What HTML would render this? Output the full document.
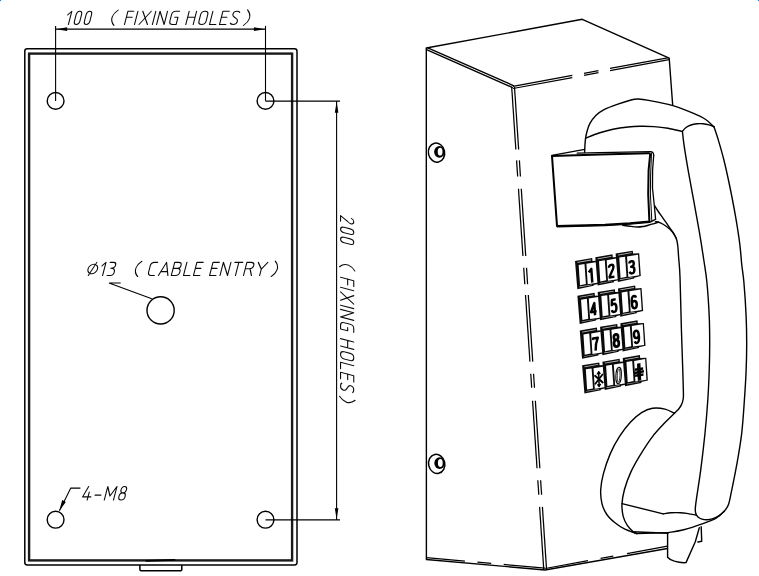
<!DOCTYPE html>
<html><head><meta charset="utf-8"><title>drawing</title>
<style>
html,body{margin:0;padding:0;background:#fff;font-family:"Liberation Sans",sans-serif;}
svg{display:block}
</style></head><body>
<svg width="759" height="576" viewBox="0 0 759 576">
<rect width="759" height="576" fill="#fff"/>

<g fill="none" stroke="#000" stroke-linecap="butt">
<rect x="24.8" y="48.8" width="272.2" height="516.2" rx="2.4" ry="2.4" stroke-width="1.5"/>
<rect x="29.1" y="53.6" width="263.0" height="506.8" stroke="#1a1a1a" stroke-width="2.4"/>
<path d="M139.9,565 L139.9,569.6 Q139.9,570.7 141,570.7 L180.7,570.7 Q181.8,570.7 181.8,569.6 L181.8,565" stroke-width="1.5"/>
<path d="M146.4,560.9 L174.6,559.9" stroke-width="1.9" stroke-linecap="round"/>
<circle cx="55.6" cy="100.9" r="8.4" stroke-width="1.4"/>
<circle cx="265.5" cy="100.9" r="8.4" stroke-width="1.4"/>
<circle cx="55.6" cy="519.7" r="8.4" stroke-width="1.4"/>
<circle cx="265.5" cy="519.7" r="8.4" stroke-width="1.4"/>
<circle cx="160.6" cy="310.4" r="13.6" stroke-width="1.4"/>
</g>
<g fill="none" stroke="#000" stroke-width="1.1">
<path d="M55.6,25.9 L55.6,100.9"/>
<path d="M265.5,25.9 L265.5,100.9"/>
<path d="M55.6,29.15 L265.5,29.15"/>
<path d="M265.5,101.1 L340,101.1"/>
<path d="M265.5,519.9 L340,519.9"/>
<path d="M336.6,101.1 L336.6,519.9"/>
<path d="M120.7,283 L109,283 L151.8,298.8"/>
<path d="M80.4,488.1 L70.8,488.1 L59.4,510.8"/>
</g>
<g fill="#000" stroke="none">
<path d="M56.2,29.15 L67.2,27.35 L67.2,30.95 Z"/>
<path d="M264.9,29.15 L253.9,27.35 L253.9,30.95 Z"/>
<path d="M336.6,101.7 L334.8,112.7 L338.4,112.7 Z"/>
<path d="M336.6,519.3 L334.8,508.3 L338.4,508.3 Z"/>
<path d="M59.2,511.1 L62.2,500.1 L65.8,501.9 Z"/>
</g>
<g fill="none" stroke="#0a0a0a" stroke-width="0.0833" stroke-linecap="round" stroke-linejoin="round" >
<path transform="translate(68.40,24.45) skewX(-14.5) scale(13.2) translate(0,-1)" d="M-0.24,0.27 L0,0 L0,1"/>
<path transform="translate(73.60,24.45) skewX(-14.5) scale(13.2) translate(0,-1)" d="M0.205,0 C0.05,0 0,0.1 0,0.27 L0,0.73 C0,0.9 0.05,1 0.205,1 C0.36,1 0.41,0.9 0.41,0.73 L0.41,0.27 C0.41,0.1 0.36,0 0.205,0 Z"/>
<path transform="translate(83.60,24.45) skewX(-14.5) scale(13.2) translate(0,-1)" d="M0.205,0 C0.05,0 0,0.1 0,0.27 L0,0.73 C0,0.9 0.05,1 0.205,1 C0.36,1 0.41,0.9 0.41,0.73 L0.41,0.27 C0.41,0.1 0.36,0 0.205,0 Z"/>
<path transform="translate(109.20,24.45) skewX(-14.5) scale(13.2) translate(0,-1)" d="M0.4,-0.08 C0.08,0.18 -0.12,0.62 0.38,1.075"/>
<path transform="translate(124.50,24.45) skewX(-14.5) scale(13.2) translate(0,-1)" d="M0,1 L0,0 L0.44,0 M0,0.46 L0.44,0.46"/>
<path transform="translate(134.50,24.45) skewX(-14.5) scale(13.2) translate(0,-1)" d="M0,0 L0,1"/>
<path transform="translate(139.00,24.45) skewX(-14.5) scale(13.2) translate(0,-1)" d="M0.03,0 L0.64,1 M0.67,0 L0,1"/>
<path transform="translate(152.40,24.45) skewX(-14.5) scale(13.2) translate(0,-1)" d="M0,0 L0,1"/>
<path transform="translate(156.60,24.45) skewX(-14.5) scale(13.2) translate(0,-1)" d="M0,1 L0,0 L0.57,1 L0.57,0"/>
<path transform="translate(169.00,24.45) skewX(-14.5) scale(13.2) translate(0,-1)" d="M0.54,0 L0.27,0 C0.08,0 0,0.1 0,0.27 L0,0.73 C0,0.9 0.08,1 0.27,1 L0.54,1 L0.54,0.46 L0.3,0.46"/>
<path transform="translate(185.80,24.45) skewX(-14.5) scale(13.2) translate(0,-1)" d="M0,0 L0,1 M0.56,0 L0.56,1 M0,0.46 L0.56,0.46"/>
<path transform="translate(198.10,24.45) skewX(-14.5) scale(13.2) translate(0,-1)" d="M0.27,0 C0.08,0 0,0.1 0,0.27 L0,0.73 C0,0.9 0.08,1 0.27,1 C0.46,1 0.54,0.9 0.54,0.73 L0.54,0.27 C0.54,0.1 0.46,0 0.27,0 Z"/>
<path transform="translate(209.50,24.45) skewX(-14.5) scale(13.2) translate(0,-1)" d="M0,0 L0,1 L0.48,1"/>
<path transform="translate(219.50,24.45) skewX(-14.5) scale(13.2) translate(0,-1)" d="M0.48,0 L0,0 L0,1 L0.48,1 M0,0.46 L0.42,0.46"/>
<path transform="translate(230.00,24.45) skewX(-14.5) scale(13.2) translate(0,-1)" d="M0.5,0.08 C0.45,0.02 0.38,0 0.27,0 C0.1,0 0.02,0.08 0.02,0.22 C0.02,0.34 0.08,0.4 0.2,0.46 L0.34,0.54 C0.46,0.6 0.5,0.66 0.5,0.78 C0.5,0.92 0.42,1 0.25,1 C0.12,1 0.04,0.97 0,0.9"/>
<path transform="translate(243.80,24.45) skewX(-14.5) scale(13.2) translate(0,-1)" d="M0,-0.1 C0.5,0.38 0.32,0.82 0.0,1.075"/>
</g>
<g fill="none" stroke="#0a0a0a" stroke-width="0.0833" stroke-linecap="round" stroke-linejoin="round" transform="translate(365.0,152.8) rotate(90)">
<path transform="translate(62.90,24.45) skewX(-14.5) scale(13.2) translate(0,-1)" d="M0,0.17 C0.03,0.05 0.1,0 0.2,0 C0.33,0 0.41,0.07 0.41,0.2 C0.41,0.3 0.37,0.37 0.3,0.46 L0,1 L0.41,1"/>
<path transform="translate(73.60,24.45) skewX(-14.5) scale(13.2) translate(0,-1)" d="M0.205,0 C0.05,0 0,0.1 0,0.27 L0,0.73 C0,0.9 0.05,1 0.205,1 C0.36,1 0.41,0.9 0.41,0.73 L0.41,0.27 C0.41,0.1 0.36,0 0.205,0 Z"/>
<path transform="translate(83.60,24.45) skewX(-14.5) scale(13.2) translate(0,-1)" d="M0.205,0 C0.05,0 0,0.1 0,0.27 L0,0.73 C0,0.9 0.05,1 0.205,1 C0.36,1 0.41,0.9 0.41,0.73 L0.41,0.27 C0.41,0.1 0.36,0 0.205,0 Z"/>
<path transform="translate(109.20,24.45) skewX(-14.5) scale(13.2) translate(0,-1)" d="M0.4,-0.08 C0.08,0.18 -0.12,0.62 0.38,1.075"/>
<path transform="translate(124.50,24.45) skewX(-14.5) scale(13.2) translate(0,-1)" d="M0,1 L0,0 L0.44,0 M0,0.46 L0.44,0.46"/>
<path transform="translate(134.50,24.45) skewX(-14.5) scale(13.2) translate(0,-1)" d="M0,0 L0,1"/>
<path transform="translate(139.00,24.45) skewX(-14.5) scale(13.2) translate(0,-1)" d="M0.03,0 L0.64,1 M0.67,0 L0,1"/>
<path transform="translate(152.40,24.45) skewX(-14.5) scale(13.2) translate(0,-1)" d="M0,0 L0,1"/>
<path transform="translate(156.60,24.45) skewX(-14.5) scale(13.2) translate(0,-1)" d="M0,1 L0,0 L0.57,1 L0.57,0"/>
<path transform="translate(169.00,24.45) skewX(-14.5) scale(13.2) translate(0,-1)" d="M0.54,0 L0.27,0 C0.08,0 0,0.1 0,0.27 L0,0.73 C0,0.9 0.08,1 0.27,1 L0.54,1 L0.54,0.46 L0.3,0.46"/>
<path transform="translate(185.80,24.45) skewX(-14.5) scale(13.2) translate(0,-1)" d="M0,0 L0,1 M0.56,0 L0.56,1 M0,0.46 L0.56,0.46"/>
<path transform="translate(198.10,24.45) skewX(-14.5) scale(13.2) translate(0,-1)" d="M0.27,0 C0.08,0 0,0.1 0,0.27 L0,0.73 C0,0.9 0.08,1 0.27,1 C0.46,1 0.54,0.9 0.54,0.73 L0.54,0.27 C0.54,0.1 0.46,0 0.27,0 Z"/>
<path transform="translate(209.50,24.45) skewX(-14.5) scale(13.2) translate(0,-1)" d="M0,0 L0,1 L0.48,1"/>
<path transform="translate(219.50,24.45) skewX(-14.5) scale(13.2) translate(0,-1)" d="M0.48,0 L0,0 L0,1 L0.48,1 M0,0.46 L0.42,0.46"/>
<path transform="translate(230.00,24.45) skewX(-14.5) scale(13.2) translate(0,-1)" d="M0.5,0.08 C0.45,0.02 0.38,0 0.27,0 C0.1,0 0.02,0.08 0.02,0.22 C0.02,0.34 0.08,0.4 0.2,0.46 L0.34,0.54 C0.46,0.6 0.5,0.66 0.5,0.78 C0.5,0.92 0.42,1 0.25,1 C0.12,1 0.04,0.97 0,0.9"/>
<path transform="translate(243.80,24.45) skewX(-14.5) scale(13.2) translate(0,-1)" d="M0,-0.1 C0.5,0.38 0.32,0.82 0.0,1.075"/>
</g>
<g fill="none" stroke="#0a0a0a" stroke-width="0.0833" stroke-linecap="round" stroke-linejoin="round" >
<path transform="translate(86.30,275.55) skewX(-14.5) scale(13.2) translate(0,-1)" d="M0.72,0.5 A0.36,0.36 0 1 1 0,0.5 A0.36,0.36 0 1 1 0.72,0.5 Z M0.15,1.0 L0.54,0.0"/>
<path transform="translate(102.60,275.55) skewX(-14.5) scale(13.2) translate(0,-1)" d="M-0.24,0.27 L0,0 L0,1"/>
<path transform="translate(106.80,275.55) skewX(-14.5) scale(13.2) translate(0,-1)" d="M0,0 L0.27,0 C0.41,0 0.46,0.08 0.46,0.2 C0.46,0.37 0.37,0.45 0.16,0.45 C0.4,0.45 0.5,0.55 0.5,0.73 C0.5,0.91 0.42,1 0.27,1 L0.02,1"/>
<path transform="translate(132.90,275.55) skewX(-14.5) scale(13.2) translate(0,-1)" d="M0.4,-0.08 C0.08,0.18 -0.12,0.62 0.38,1.075"/>
<path transform="translate(147.70,275.55) skewX(-14.5) scale(13.2) translate(0,-1)" d="M0.5,0 L0.27,0 C0.08,0 0,0.1 0,0.27 L0,0.73 C0,0.9 0.08,1 0.27,1 L0.5,1"/>
<path transform="translate(158.40,275.55) skewX(-14.5) scale(13.2) translate(0,-1)" d="M0,1 L0.36,0 L0.72,1 M0.108,0.7 L0.612,0.7"/>
<path transform="translate(171.30,275.55) skewX(-14.5) scale(13.2) translate(0,-1)" d="M0,0 L0,1 L0.32,1 C0.51,1 0.58,0.9 0.58,0.73 C0.58,0.56 0.51,0.46 0.32,0.46 L0,0.46 M0.32,0.46 C0.48,0.46 0.54,0.38 0.54,0.23 C0.54,0.08 0.48,0 0.3,0 L0,0"/>
<path transform="translate(183.50,275.55) skewX(-14.5) scale(13.2) translate(0,-1)" d="M0,0 L0,1 L0.48,1"/>
<path transform="translate(193.50,275.55) skewX(-14.5) scale(13.2) translate(0,-1)" d="M0.48,0 L0,0 L0,1 L0.48,1 M0,0.46 L0.42,0.46"/>
<path transform="translate(209.60,275.55) skewX(-14.5) scale(13.2) translate(0,-1)" d="M0.48,0 L0,0 L0,1 L0.48,1 M0,0.46 L0.42,0.46"/>
<path transform="translate(220.00,275.55) skewX(-14.5) scale(13.2) translate(0,-1)" d="M0,1 L0,0 L0.57,1 L0.57,0"/>
<path transform="translate(231.50,275.55) skewX(-14.5) scale(13.2) translate(0,-1)" d="M0,0 L0.6,0 M0.3,0 L0.3,1"/>
<path transform="translate(243.50,275.55) skewX(-14.5) scale(13.2) translate(0,-1)" d="M0,1 L0,0 L0.32,0 C0.51,0 0.58,0.08 0.58,0.24 C0.58,0.4 0.51,0.48 0.32,0.48 L0,0.48 M0.36,0.48 L0.6,1"/>
<path transform="translate(254.90,275.55) skewX(-14.5) scale(13.2) translate(0,-1)" d="M0,0 L0.36,0.51 L0.72,0 M0.36,0.51 L0.36,1"/>
<path transform="translate(271.50,275.55) skewX(-14.5) scale(13.2) translate(0,-1)" d="M0,-0.1 C0.5,0.38 0.32,0.82 0.0,1.075"/>
</g>
<g fill="none" stroke="#0a0a0a" stroke-width="0.0815" stroke-linecap="round" stroke-linejoin="round" >
<path transform="translate(81.80,500.00) skewX(-14.5) scale(13.5) translate(0,-1)" d="M0.25,0 L0,0.77 L0.61,0.77 M0.40,0.42 L0.40,1"/>
<path transform="translate(93.80,500.00) skewX(-14.5) scale(13.5) translate(0,-1)" d="M0,0.64 L0.43,0.64"/>
<path transform="translate(104.30,500.00) skewX(-14.5) scale(13.5) translate(0,-1)" d="M0,1 L0,0 L0.34,0.7 L0.68,0 L0.68,1"/>
<path transform="translate(118.00,500.00) skewX(-14.5) scale(13.5) translate(0,-1)" d="M0.23,0.47 C0.08,0.47 0.03,0.38 0.03,0.24 C0.03,0.08 0.1,0 0.23,0 C0.36,0 0.43,0.08 0.43,0.24 C0.43,0.38 0.38,0.47 0.23,0.47 C0.06,0.47 0,0.58 0,0.74 C0,0.92 0.08,1 0.23,1 C0.38,1 0.46,0.92 0.46,0.74 C0.46,0.58 0.4,0.47 0.23,0.47"/>
</g>
<g fill="none" stroke="#000" stroke-width="1.4" stroke-linecap="round" stroke-linejoin="round">
<path d="M426.4,559.5 L426.3,48.0 L582.3,19.3 L669.2,58.2 L672.3,100 L672.7,105"/>
<path d="M427.8,47.8 L513.4,85.6"/>
<path d="M426.5,49.7 L512.2,87.4"/>
</g>
<path d="M511.70,87.00 L515.85,149.50" stroke="#000" stroke-width="1.25" fill="none"/>
<path d="M516.58,160.40 L517.65,176.50" stroke="#000" stroke-width="1.25" fill="none"/>
<path d="M518.46,188.70 L522.93,256.00" stroke="#000" stroke-width="1.25" fill="none"/>
<path d="M523.72,267.80 L524.81,284.30" stroke="#000" stroke-width="1.25" fill="none"/>
<path d="M525.52,295.00 L529.95,361.60" stroke="#000" stroke-width="1.25" fill="none"/>
<path d="M530.76,373.80 L531.68,387.70" stroke="#000" stroke-width="1.25" fill="none"/>
<path d="M532.56,400.80 L537.03,468.20" stroke="#000" stroke-width="1.25" fill="none"/>
<path d="M537.84,480.30 L538.80,494.70" stroke="#000" stroke-width="1.25" fill="none"/>
<path d="M539.61,506.90 L543.77,569.60" stroke="#000" stroke-width="1.25" fill="none"/>
<path d="M514.50,87.00 L518.65,149.50" stroke="#000" stroke-width="1.25" fill="none"/>
<path d="M519.38,160.40 L520.45,176.50" stroke="#000" stroke-width="1.25" fill="none"/>
<path d="M521.26,188.70 L525.73,256.00" stroke="#000" stroke-width="1.25" fill="none"/>
<path d="M526.52,267.80 L527.61,284.30" stroke="#000" stroke-width="1.25" fill="none"/>
<path d="M528.32,295.00 L532.75,361.60" stroke="#000" stroke-width="1.25" fill="none"/>
<path d="M533.56,373.80 L534.48,387.70" stroke="#000" stroke-width="1.25" fill="none"/>
<path d="M535.36,400.80 L539.83,468.20" stroke="#000" stroke-width="1.25" fill="none"/>
<path d="M540.64,480.30 L541.60,494.70" stroke="#000" stroke-width="1.25" fill="none"/>
<path d="M542.41,506.90 L546.57,569.60" stroke="#000" stroke-width="1.25" fill="none"/>
<path d="M513.00,86.46 L572.30,75.47" stroke="#000" stroke-width="1.25" fill="none"/>
<path d="M584.00,73.30 L598.50,70.61" stroke="#000" stroke-width="1.25" fill="none"/>
<path d="M610.00,68.48 L669.00,57.55" stroke="#000" stroke-width="1.25" fill="none"/>
<path d="M513.00,88.51 L572.30,77.52" stroke="#000" stroke-width="1.25" fill="none"/>
<path d="M584.00,75.35 L598.50,72.66" stroke="#000" stroke-width="1.25" fill="none"/>
<path d="M610.00,70.53 L669.00,59.60" stroke="#000" stroke-width="1.25" fill="none"/>
<path d="M426.4,559.5 L545,570.0" stroke="#000" stroke-width="1.3" fill="none"/>
<path d="M426.30,557.60 L464.90,561.02" stroke="#000" stroke-width="1.25" fill="none"/>
<path d="M477.40,562.12 L491.20,563.35" stroke="#000" stroke-width="1.25" fill="none"/>
<path d="M503.70,564.45 L544.90,568.10" stroke="#000" stroke-width="1.25" fill="none"/>
<path d="M545,570.0 L667.5,548.5" stroke="#000" stroke-width="1.3" fill="none"/>
<path d="M545.30,568.50 L588.00,560.71" stroke="#000" stroke-width="1.25" fill="none"/>
<path d="M600.60,558.41 L613.30,556.09" stroke="#000" stroke-width="1.25" fill="none"/>
<path d="M627.00,553.59 L667.50,546.20" stroke="#000" stroke-width="1.25" fill="none"/>
<ellipse cx="436.5" cy="152.6" rx="8.1" ry="9.6" transform="rotate(-12 436.5 152.6)" fill="#fff" stroke="#000" stroke-width="1.5"/>
<ellipse cx="439.4" cy="151.79999999999998" rx="5.3" ry="5.9" fill="#000" stroke="none"/>
<ellipse cx="440.1" cy="151.7" rx="2.4" ry="3.9" fill="#fff" stroke="none"/>
<ellipse cx="436.7" cy="463.9" rx="8.1" ry="9.6" transform="rotate(-12 436.7 463.9)" fill="#fff" stroke="#000" stroke-width="1.5"/>
<ellipse cx="439.59999999999997" cy="463.09999999999997" rx="5.3" ry="5.9" fill="#000" stroke="none"/>
<ellipse cx="440.3" cy="463.0" rx="2.4" ry="3.9" fill="#fff" stroke="none"/>
<g fill="none" stroke="#000" stroke-width="1.4" stroke-linecap="round" stroke-linejoin="round">
<path d="M584.60,152.40 C584.65,151.33 584.75,148.25 584.90,146.00 C585.05,143.75 585.18,141.20 585.50,138.90 C585.82,136.60 586.08,134.73 586.80,132.20 C587.52,129.67 588.25,126.52 589.80,123.70 C591.35,120.88 593.65,117.68 596.10,115.30 C598.55,112.92 600.98,111.23 604.50,109.40 C608.02,107.57 612.63,105.92 617.20,104.30 C621.77,102.68 628.40,100.58 631.90,99.70 C635.40,98.82 635.38,98.88 638.20,99.00 C641.02,99.12 643.17,99.33 648.80,100.40 C654.43,101.47 664.63,103.27 672.00,105.40 C679.37,107.53 687.38,110.85 693.00,113.20 C698.62,115.55 702.20,117.23 705.70,119.50 C709.20,121.77 712.62,125.58 714.00,126.80"/>
<path d="M585.50,138.30 C587.75,137.42 594.42,134.52 599.00,133.00 C603.58,131.48 608.17,130.20 613.00,129.20 C617.83,128.20 623.50,127.48 628.00,127.00 C632.50,126.52 635.67,126.37 640.00,126.30 C644.33,126.23 649.33,126.28 654.00,126.60 C658.67,126.92 663.27,127.40 668.00,128.20 C672.73,129.00 680.00,130.87 682.40,131.40"/>
<path d="M682.40,131.40 C683.00,130.75 684.57,128.57 686.00,127.50 C687.43,126.43 689.17,125.62 691.00,125.00 C692.83,124.38 695.00,124.02 697.00,123.80 C699.00,123.58 701.00,123.53 703.00,123.70 C705.00,123.87 707.17,124.28 709.00,124.80 C710.83,125.32 713.17,126.47 714.00,126.80"/>
<path d="M682.40,131.40 C682.70,133.85 683.22,139.48 684.20,146.10 C685.18,152.72 686.68,161.83 688.30,171.10 C689.92,180.37 692.05,191.52 693.90,201.70 C695.75,211.88 697.75,222.48 699.40,232.20 C701.05,241.92 702.55,251.67 703.80,260.00 C705.05,268.33 706.00,272.93 706.90,282.20 C707.80,291.47 708.73,305.42 709.20,315.60 C709.67,325.78 709.70,334.05 709.70,343.30 C709.70,352.55 709.52,361.65 709.20,371.10 C708.88,380.55 708.50,389.63 707.80,400.00 C707.10,410.37 706.17,421.73 705.00,433.30 C703.83,444.87 702.18,458.75 700.80,469.40 C699.42,480.05 697.62,490.68 696.70,497.20 C695.78,503.72 695.45,505.78 695.30,508.50 C695.15,511.22 695.35,512.08 695.80,513.50 C696.25,514.92 696.97,516.05 698.00,517.00 C699.03,517.95 700.50,518.73 702.00,519.20 C703.50,519.67 705.17,519.90 707.00,519.80 C708.83,519.70 711.00,519.30 713.00,518.60 C715.00,517.90 717.10,516.85 719.00,515.60 C720.90,514.35 723.50,511.85 724.40,511.10"/>
<path d="M714.00,126.80 C714.75,129.10 716.85,135.07 718.50,140.60 C720.15,146.13 722.07,152.60 723.90,160.00 C725.73,167.40 727.58,175.73 729.50,185.00 C731.42,194.27 733.70,205.88 735.40,215.60 C737.10,225.32 738.63,235.07 739.70,243.30 C740.77,251.53 741.10,258.52 741.80,265.00 C742.50,271.48 743.18,273.77 743.90,282.20 C744.62,290.63 745.63,305.42 746.10,315.60 C746.57,325.78 746.70,334.05 746.70,343.30 C746.70,352.55 746.48,361.65 746.10,371.10 C745.72,380.55 745.13,389.63 744.40,400.00 C743.67,410.37 742.95,422.65 741.70,433.30 C740.45,443.95 738.62,454.17 736.90,463.90 C735.18,473.63 732.78,484.98 731.40,491.70 C730.02,498.42 729.77,500.97 728.60,504.20 C727.43,507.43 726.48,508.78 724.40,511.10 C722.32,513.42 719.80,515.97 716.10,518.10 C712.40,520.23 707.59,521.96 702.20,523.90 C696.81,525.84 689.43,528.30 683.75,529.75 C678.07,531.20 670.71,532.12 668.10,532.60"/>
<path d="M654.60,205.60 C655.17,206.50 656.83,209.23 658.00,211.00 C659.17,212.77 660.27,214.30 661.60,216.20 C662.93,218.10 664.58,220.38 666.00,222.40 C667.42,224.42 668.77,226.37 670.10,228.30 C671.43,230.23 672.92,232.13 674.00,234.00 C675.08,235.87 675.97,237.50 676.60,239.50 C677.23,241.50 677.47,243.08 677.80,246.00 C678.13,248.92 678.23,251.88 678.60,257.00 C678.97,262.12 679.53,264.63 680.00,276.70 C680.47,288.77 680.93,313.67 681.40,329.40 C681.87,345.13 682.47,360.67 682.80,371.10 C683.13,381.53 683.33,387.35 683.40,392.00 C683.47,396.65 683.52,396.90 683.20,399.00 C682.88,401.10 682.28,402.90 681.50,404.60 C680.72,406.30 679.68,407.77 678.50,409.20 C677.32,410.63 675.08,412.53 674.40,413.20"/>
<path d="M655.50,221.60 C656.32,221.82 658.57,222.08 660.40,222.90 C662.23,223.72 664.48,224.98 666.50,226.50 C668.52,228.02 670.85,230.00 672.50,232.00 C674.15,234.00 675.75,237.42 676.40,238.50"/>
<path d="M622.60,225.20 C623.83,225.38 627.55,226.00 630.00,226.30 C632.45,226.60 635.13,226.97 637.30,227.00 C639.47,227.03 641.18,226.78 643.00,226.50 C644.82,226.22 646.37,225.78 648.20,225.30 C650.03,224.82 652.27,224.12 654.00,223.60 C655.73,223.08 657.83,222.43 658.60,222.20"/>
<path d="M674.40,413.20 C672.83,412.52 668.65,409.92 665.00,409.10 C661.35,408.28 656.40,407.72 652.50,408.30 C648.60,408.88 645.25,410.32 641.60,412.60 C637.95,414.88 634.25,418.07 630.60,422.00 C626.95,425.93 623.08,430.93 619.70,436.20 C616.32,441.47 613.03,447.28 610.30,453.60 C607.57,459.92 604.90,468.08 603.30,474.10 C601.70,480.12 600.92,484.80 600.70,489.75 C600.48,494.70 600.95,499.63 602.00,503.80 C603.05,507.97 604.83,511.58 607.00,514.75 C609.17,517.92 612.10,520.44 615.00,522.80 C617.90,525.16 620.75,527.10 624.40,528.90 C628.05,530.70 634.82,532.82 636.90,533.60"/>
<path d="M636.9,533.6 L668.1,532.6"/>
<path d="M674.40,413.20 C672.83,414.77 668.65,418.70 665.00,422.60 C661.35,426.50 656.67,431.13 652.50,436.60 C648.33,442.07 643.65,449.40 640.00,455.40 C636.35,461.40 633.20,466.88 630.60,472.60 C628.00,478.33 625.83,484.55 624.40,489.75 C622.97,494.95 622.20,499.38 622.00,503.80 C621.80,508.23 622.28,512.65 623.20,516.30 C624.12,519.95 625.74,523.05 627.50,525.70 C629.26,528.35 632.18,530.88 633.75,532.20 C635.32,533.52 636.38,533.37 636.90,533.60"/>
<path d="M622.0,503.6 L663.2,513.9"/>
<path d="M663.20,513.90 C664.50,513.72 668.10,513.00 671.00,512.80 C673.90,512.60 677.77,512.57 680.60,512.70 C683.43,512.83 685.50,513.22 688.00,513.60 C690.50,513.98 694.33,514.77 695.60,515.00"/>
<path d="M632.2,531.8 L668,533.3"/>
<path d="M667.6,533 L667.6,557.2 C669,559 672,560.4 674.4,561.2 C678,562.3 682,562.9 686,562.6 L695.3,541.8 L699.3,527.7"/>
<path d="M701.2,526.8 L701.7,541.3 L697.9,542"/>
</g>
<g fill="none" stroke="#000" stroke-linecap="round" stroke-linejoin="round">
<path d="M551.9,155.4 L584.7,149.3" stroke-width="1.3"/>
<path d="M552.0,156.0 L600,154.6 L648.4,153.2 Q650.2,153.2 650.1,155.0 L648.6,170 L648.2,194.3 L649.4,221.4 L630,223.2 L605,224.7 L557.0,225.9 Z" stroke-width="2.0" fill="#fff"/>
<path d="M577.2,153.2 L600,152.7 L650.3,151.6 Q653.6,151.7 653.7,155.2" stroke-width="1.3"/>
<path d="M557.2,226.8 L605,225.6 L630,224.2 L649.6,222.3 L655.6,219.4" stroke-width="1.3"/>
<path d="M651.5,153.2 L650.6,175 L650.4,194 L651.8,220.6" stroke-width="1.0"/>
<path d="M653.7,155.2 L652.6,170 L652.5,188.2 L654.3,205.2 L655.6,219.4" stroke-width="1.3"/>
</g>
<polygon points="575.00,260.90 592.20,258.00 592.50,260.90 598.60,260.60 600.20,283.40 593.60,285.00 593.70,285.80 577.30,289.20" fill="#0a0a0a"/>
<polygon points="578.70,264.90 584.50,264.00 585.90,284.00 580.00,285.20" fill="#fff"/>
<polygon points="586.40,263.80 597.40,262.00 598.70,282.60 587.70,284.30" fill="#fff"/>
<polygon points="577.20,262.10 591.00,259.60 591.10,260.40 577.60,262.80" fill="#fff" opacity="0.75"/>
<polygon points="579.30,286.60 592.00,284.60 592.00,285.00 579.40,287.20" fill="#fff" opacity="0.8"/>
<path transform="matrix(1,-0.17,0.07,1,591.20,274.60)" d="M-2.3,-2.6 L0.5,-5.6 L0.5,8.0" fill="none" stroke="#000" stroke-width="2.45" stroke-linejoin="round" stroke-linecap="butt"/>
<polygon points="595.30,257.25 612.50,254.35 612.80,257.25 618.90,256.95 620.50,279.75 613.90,281.35 614.00,282.15 597.60,285.55" fill="#0a0a0a"/>
<polygon points="599.00,261.25 604.80,260.35 606.20,280.35 600.30,281.55" fill="#fff"/>
<polygon points="606.70,260.15 617.70,258.35 619.00,278.95 608.00,280.65" fill="#fff"/>
<polygon points="597.50,258.45 611.30,255.95 611.40,256.75 597.90,259.15" fill="#fff" opacity="0.75"/>
<polygon points="599.60,282.95 612.30,280.95 612.30,281.35 599.70,283.55" fill="#fff" opacity="0.8"/>
<path transform="matrix(1,-0.17,0.07,1,611.50,270.95)" d="M-2.2,-3.5 C-2.2,-5.3 -1.3,-6.1 0,-6.1 C1.3,-6.1 2.2,-5.3 2.2,-3.8 C2.2,-2.2 1.3,-0.9 0.1,0.9 L-2.2,5.3 L-2.2,6.1 L2.5,6.1" fill="none" stroke="#000" stroke-width="2.45" stroke-linejoin="round" stroke-linecap="butt"/>
<polygon points="615.60,253.60 632.80,250.70 633.10,253.60 639.20,253.30 640.80,276.10 634.20,277.70 634.30,278.50 617.90,281.90" fill="#0a0a0a"/>
<polygon points="619.30,257.60 625.10,256.70 626.50,276.70 620.60,277.90" fill="#fff"/>
<polygon points="627.00,256.50 638.00,254.70 639.30,275.30 628.30,277.00" fill="#fff"/>
<polygon points="617.80,254.80 631.60,252.30 631.70,253.10 618.20,255.50" fill="#fff" opacity="0.75"/>
<polygon points="619.90,279.30 632.60,277.30 632.60,277.70 620.00,279.90" fill="#fff" opacity="0.8"/>
<path transform="matrix(1,-0.17,0.07,1,631.80,267.30)" d="M-2.2,-4.2 C-2,-5.4 -1.2,-6.1 0,-6.1 C1.3,-6.1 2.2,-5.3 2.2,-3.7 C2.2,-1.8 1.2,-0.8 -0.5,-0.6 C1.4,-0.6 2.4,0.6 2.4,2.6 C2.4,4.8 1.4,6.1 0,6.1 C-1.3,6.1 -2.2,5.3 -2.4,3.9" fill="none" stroke="#000" stroke-width="2.45" stroke-linejoin="round" stroke-linecap="butt"/>
<polygon points="577.37,295.70 594.57,292.80 594.87,295.70 600.97,295.40 602.57,318.20 595.97,319.80 596.07,320.60 579.67,324.00" fill="#0a0a0a"/>
<polygon points="581.07,299.70 586.87,298.80 588.27,318.80 582.37,320.00" fill="#fff"/>
<polygon points="588.77,298.60 599.77,296.80 601.07,317.40 590.07,319.10" fill="#fff"/>
<polygon points="579.57,296.90 593.37,294.40 593.47,295.20 579.97,297.60" fill="#fff" opacity="0.75"/>
<polygon points="581.67,321.40 594.37,319.40 594.37,319.80 581.77,322.00" fill="#fff" opacity="0.8"/>
<path transform="matrix(1,-0.17,0.07,1,593.57,309.40)" d="M1.1,6.1 L1.1,-6.1 L-2.7,2.3 L2.9,2.3" fill="none" stroke="#000" stroke-width="2.45" stroke-linejoin="round" stroke-linecap="butt"/>
<polygon points="597.67,292.05 614.87,289.15 615.17,292.05 621.27,291.75 622.87,314.55 616.27,316.15 616.37,316.95 599.97,320.35" fill="#0a0a0a"/>
<polygon points="601.37,296.05 607.17,295.15 608.57,315.15 602.67,316.35" fill="#fff"/>
<polygon points="609.07,294.95 620.07,293.15 621.37,313.75 610.37,315.45" fill="#fff"/>
<polygon points="599.87,293.25 613.67,290.75 613.77,291.55 600.27,293.95" fill="#fff" opacity="0.75"/>
<polygon points="601.97,317.75 614.67,315.75 614.67,316.15 602.07,318.35" fill="#fff" opacity="0.8"/>
<path transform="matrix(1,-0.17,0.07,1,613.87,305.75)" d="M2.2,-6.1 L-1.5,-6.1 L-2.0,-0.9 C-1.4,-1.7 -0.6,-2.0 0.2,-2.0 C1.6,-2.0 2.4,-0.5 2.4,1.9 C2.4,4.6 1.5,6.1 0,6.1 C-1.3,6.1 -2.2,5.3 -2.4,4" fill="none" stroke="#000" stroke-width="2.45" stroke-linejoin="round" stroke-linecap="butt"/>
<polygon points="617.97,288.40 635.17,285.50 635.47,288.40 641.57,288.10 643.17,310.90 636.57,312.50 636.67,313.30 620.27,316.70" fill="#0a0a0a"/>
<polygon points="621.67,292.40 627.47,291.50 628.87,311.50 622.97,312.70" fill="#fff"/>
<polygon points="629.37,291.30 640.37,289.50 641.67,310.10 630.67,311.80" fill="#fff"/>
<polygon points="620.17,289.60 633.97,287.10 634.07,287.90 620.57,290.30" fill="#fff" opacity="0.75"/>
<polygon points="622.27,314.10 634.97,312.10 634.97,312.50 622.37,314.70" fill="#fff" opacity="0.8"/>
<path transform="matrix(1,-0.17,0.07,1,634.17,302.10)" d="M2.1,-4.2 C1.9,-5.4 1.2,-6.1 0.1,-6.1 C-1.5,-6.1 -2.4,-4.2 -2.4,0 C-2.4,4.4 -1.6,6.1 0,6.1 C1.5,6.1 2.4,4.7 2.4,2.4 C2.4,0.2 1.5,-1.1 0.1,-1.1 C-1.2,-1.1 -2.1,-0.2 -2.4,1.4" fill="none" stroke="#000" stroke-width="2.45" stroke-linejoin="round" stroke-linecap="butt"/>
<polygon points="579.74,330.50 596.94,327.60 597.24,330.50 603.34,330.20 604.94,353.00 598.34,354.60 598.44,355.40 582.04,358.80" fill="#0a0a0a"/>
<polygon points="583.44,334.50 589.24,333.60 590.64,353.60 584.74,354.80" fill="#fff"/>
<polygon points="591.14,333.40 602.14,331.60 603.44,352.20 592.44,353.90" fill="#fff"/>
<polygon points="581.94,331.70 595.74,329.20 595.84,330.00 582.34,332.40" fill="#fff" opacity="0.75"/>
<polygon points="584.04,356.20 596.74,354.20 596.74,354.60 584.14,356.80" fill="#fff" opacity="0.8"/>
<path transform="matrix(1,-0.17,0.07,1,595.94,344.20)" d="M-2.5,-4.6 L-2.5,-6.1 L2.3,-6.1 C0.5,-2.6 -0.5,1.5 -0.7,6.3" fill="none" stroke="#000" stroke-width="2.45" stroke-linejoin="round" stroke-linecap="butt"/>
<polygon points="600.04,326.85 617.24,323.95 617.54,326.85 623.64,326.55 625.24,349.35 618.64,350.95 618.74,351.75 602.34,355.15" fill="#0a0a0a"/>
<polygon points="603.74,330.85 609.54,329.95 610.94,349.95 605.04,351.15" fill="#fff"/>
<polygon points="611.44,329.75 622.44,327.95 623.74,348.55 612.74,350.25" fill="#fff"/>
<polygon points="602.24,328.05 616.04,325.55 616.14,326.35 602.64,328.75" fill="#fff" opacity="0.75"/>
<polygon points="604.34,352.55 617.04,350.55 617.04,350.95 604.44,353.15" fill="#fff" opacity="0.8"/>
<path transform="matrix(1,-0.17,0.07,1,616.24,340.55)" d="M0,-0.6 C-1.4,-0.6 -2.1,-1.8 -2.1,-3.4 C-2.1,-5.1 -1.3,-6.1 0,-6.1 C1.3,-6.1 2.1,-5.1 2.1,-3.4 C2.1,-1.8 1.4,-0.6 0,-0.6 C-1.6,-0.6 -2.4,0.8 -2.4,2.8 C-2.4,4.9 -1.5,6.1 0,6.1 C1.5,6.1 2.4,4.9 2.4,2.8 C2.4,0.8 1.6,-0.6 0,-0.6 Z" fill="none" stroke="#000" stroke-width="2.7" stroke-linejoin="round" stroke-linecap="butt"/>
<polygon points="620.34,323.20 637.54,320.30 637.84,323.20 643.94,322.90 645.54,345.70 638.94,347.30 639.04,348.10 622.64,351.50" fill="#0a0a0a"/>
<polygon points="624.04,327.20 629.84,326.30 631.24,346.30 625.34,347.50" fill="#fff"/>
<polygon points="631.74,326.10 642.74,324.30 644.04,344.90 633.04,346.60" fill="#fff"/>
<polygon points="622.54,324.40 636.34,321.90 636.44,322.70 622.94,325.10" fill="#fff" opacity="0.75"/>
<polygon points="624.64,348.90 637.34,346.90 637.34,347.30 624.74,349.50" fill="#fff" opacity="0.8"/>
<path transform="matrix(1,-0.17,0.07,1,636.54,336.90) rotate(180)" d="M2.1,-4.2 C1.9,-5.4 1.2,-6.1 0.1,-6.1 C-1.5,-6.1 -2.4,-4.2 -2.4,0 C-2.4,4.4 -1.6,6.1 0,6.1 C1.5,6.1 2.4,4.7 2.4,2.4 C2.4,0.2 1.5,-1.1 0.1,-1.1 C-1.2,-1.1 -2.1,-0.2 -2.4,1.4" fill="none" stroke="#000" stroke-width="2.45" stroke-linejoin="round" stroke-linecap="butt"/>
<polygon points="582.11,365.30 599.31,362.40 599.61,365.30 605.71,365.00 607.31,387.80 600.71,389.40 600.81,390.20 584.41,393.60" fill="#0a0a0a"/>
<polygon points="585.81,369.30 591.61,368.40 593.01,388.40 587.11,389.60" fill="#fff"/>
<polygon points="593.51,368.20 604.51,366.40 605.81,387.00 594.81,388.70" fill="#fff"/>
<polygon points="584.31,366.50 598.11,364.00 598.21,364.80 584.71,367.20" fill="#fff" opacity="0.75"/>
<polygon points="586.41,391.00 599.11,389.00 599.11,389.40 586.51,391.60" fill="#fff" opacity="0.8"/>
<g transform="matrix(1,-0.17,0.04,1,598.91,379.10)" stroke="#000" stroke-linecap="round" stroke-linejoin="round" fill="none"><path d="M-3.7,-4.0 L3.7,4.0 M3.7,-4.0 L-3.7,4.0" stroke-width="1.9"/><path d="M0,-7.0 L0,7.0" stroke-width="1.5"/><path d="M-1.5,-5.4 L0,-7.4 L1.5,-5.4 Z M-1.5,5.4 L0,7.4 L1.5,5.4 Z" stroke-width="1.2" fill="#000"/></g>
<polygon points="602.41,361.65 619.61,358.75 619.91,361.65 626.01,361.35 627.61,384.15 621.01,385.75 621.11,386.55 604.71,389.95" fill="#0a0a0a"/>
<polygon points="606.11,365.65 611.91,364.75 613.31,384.75 607.41,385.95" fill="#fff"/>
<polygon points="613.81,364.55 624.81,362.75 626.11,383.35 615.11,385.05" fill="#fff"/>
<polygon points="604.61,362.85 618.41,360.35 618.51,361.15 605.01,363.55" fill="#fff" opacity="0.75"/>
<polygon points="606.71,387.35 619.41,385.35 619.41,385.75 606.81,387.95" fill="#fff" opacity="0.8"/>
<g transform="matrix(1,-0.17,-0.03,1,618.61,375.55)" stroke="#000" fill="none"><ellipse cx="0" cy="0" rx="2.8" ry="8.2" stroke-width="1.0"/><ellipse cx="0" cy="0" rx="1.4" ry="6.7" stroke-width="0.8"/></g>
<polygon points="622.71,358.00 639.91,355.10 640.21,358.00 646.31,357.70 647.91,380.50 641.31,382.10 641.41,382.90 625.01,386.30" fill="#0a0a0a"/>
<polygon points="626.41,362.00 632.21,361.10 633.61,381.10 627.71,382.30" fill="#fff"/>
<polygon points="634.11,360.90 645.11,359.10 646.41,379.70 635.41,381.40" fill="#fff"/>
<polygon points="624.91,359.20 638.71,356.70 638.81,357.50 625.31,359.90" fill="#fff" opacity="0.75"/>
<polygon points="627.01,383.70 639.71,381.70 639.71,382.10 627.11,384.30" fill="#fff" opacity="0.8"/>
<g transform="matrix(1,-0.17,0.05,1,639.11,372.00)" stroke="#000" stroke-linecap="butt" fill="none"><path d="M0,-8.6 L0,8.6" stroke-width="3.4"/><path d="M-4.2,-2.9 L4.2,-2.9 M-4.8,0.1 L4.8,0.1 M-4.2,3.1 L4.2,3.1" stroke-width="2.5"/></g>
<rect x="0" y="0" width="1.1" height="1.05" fill="#1a86e0"/>
<rect x="757.9" y="0" width="1.1" height="1.05" fill="#1a86e0"/>
</svg></body></html>
